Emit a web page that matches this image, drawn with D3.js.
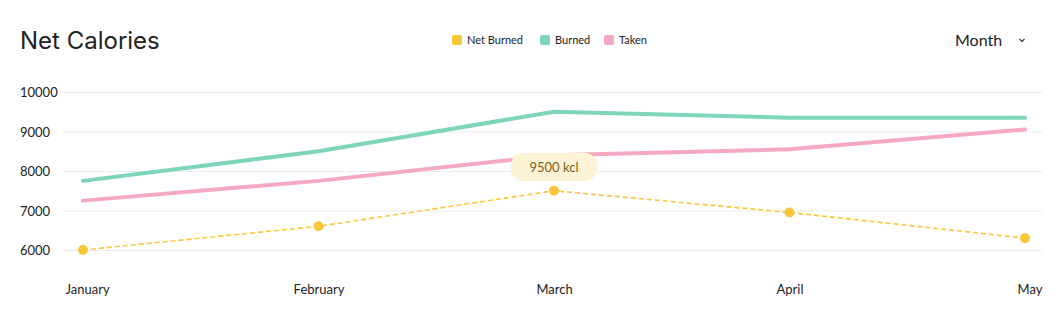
<!DOCTYPE html>
<html>
<head>
<meta charset="utf-8">
<script src="https://cdn.jsdelivr.net/npm/d3@7"></script>
<style>
  html, body { margin: 0; padding: 0; background: #fff; }
  svg { display: block; }
  text { font-family: Lato, "Open Sans", sans-serif; }
  text.title { font-family: Inter, sans-serif; }
</style>
</head>
<body>
<svg id="chart" width="1062" height="326"></svg>
<script>
// Monthly calorie figures
const months = ["January", "February", "March", "April", "May"];
const burned = [7750, 8500, 9500, 9350, 9350];
const taken = [7250, 7750, 8400, 8550, 9050];
const netBurned = [6000, 6600, 7500, 6950, 6300];
const yTicks = [6000, 7000, 8000, 9000, 10000];
const legendItems = ["Net Burned", "Burned", "Taken"];
const highlightIndex = 2;
const highlightLabel = burned[highlightIndex] + " kcl";

const colors = { "Net Burned": "#F9C73A", "Burned": "#7FD6B6", "Taken": "#F5A9C1" };

const svg = d3.select("#chart");

const x = d3.scalePoint().domain(months).range([83, 1025]);
const y = d3.scaleLinear().domain([6000, 10000]).range([250, 92]);

// Title
svg.append("text").attr("class", "title").attr("x", 20).attr("y", 49)
  .attr("font-size", 24).attr("fill", "#222").text("Net Calories");

// Legend
const legendX = [452, 540, 604];
legendItems.forEach((name, i) => {
  const g = svg.append("g").attr("transform", `translate(${legendX[i]},35)`);
  g.append("rect").attr("width", 10).attr("height", 10).attr("rx", 2).attr("fill", colors[name]);
  g.append("text").attr("x", 15).attr("y", 9).attr("font-size", 11).attr("fill", "#222").text(name);
});

// Period selector
svg.append("text").attr("x", 955).attr("y", 46).attr("font-size", 16).attr("fill", "#222").text("Month");
svg.append("path").attr("d", "M1019.5,39 L1022,41.5 L1024.5,39")
  .attr("fill", "none").attr("stroke", "#333").attr("stroke-width", 1.2);

// Gridlines and y labels
const yAxis = d3.axisLeft(y).tickValues(yTicks).tickSize(-(1042 - 63)).tickFormat(d3.format("d"));
const yG = svg.append("g").attr("transform", "translate(63,0)").call(yAxis);
yG.select(".domain").remove();
yG.selectAll(".tick line").attr("stroke", "#ececec");
yG.selectAll(".tick text").attr("x", -43).attr("text-anchor", "start")
  .attr("font-size", 13).attr("fill", "#222").attr("dy", "0.35em");

// x labels
const xAxis = d3.axisBottom(x).tickSize(0).tickPadding(0);
const xG = svg.append("g").attr("transform", "translate(0,294)").call(xAxis);
xG.select(".domain").remove();
xG.selectAll(".tick text").attr("font-size", 13).attr("fill", "#222").attr("dy", 0)
  .attr("text-anchor", (d, i) => i === 0 ? "start" : (i === months.length - 1 ? "end" : "middle"))
  .attr("x", (d, i) => i === 0 ? -18 : (i === months.length - 1 ? 17 : 0));

const line = d3.line().x((d, i) => x(months[i])).y(d => y(d));

// Taken and Burned lines
svg.append("path").datum(taken).attr("d", line).attr("fill", "none")
  .attr("stroke", colors["Taken"]).attr("stroke-width", 4).attr("stroke-linecap", "round");
svg.append("path").datum(burned).attr("d", line).attr("fill", "none")
  .attr("stroke", colors["Burned"]).attr("stroke-width", 4).attr("stroke-linecap", "round");

// Net burned dashed line with points
svg.append("path").datum(netBurned).attr("d", line).attr("fill", "none")
  .attr("stroke", colors["Net Burned"]).attr("stroke-width", 1.6).attr("stroke-dasharray", "5,3");
svg.selectAll("circle.net").data(netBurned).join("circle").attr("class", "net")
  .attr("cx", (d, i) => x(months[i])).attr("cy", d => y(d)).attr("r", 5)
  .attr("fill", colors["Net Burned"]);

// Highlight tooltip
const tx = x(months[highlightIndex]);
const tip = svg.append("g").attr("transform", `translate(${tx},167)`);
tip.append("rect").attr("x", -43).attr("y", -14).attr("width", 86).attr("height", 28).attr("rx", 12)
  .attr("fill", "#FDF3D7");
tip.append("text").attr("text-anchor", "middle").attr("y", 5).attr("font-size", 13)
  .attr("fill", "#7a6220").text(highlightLabel);
</script>
</body>
</html>
